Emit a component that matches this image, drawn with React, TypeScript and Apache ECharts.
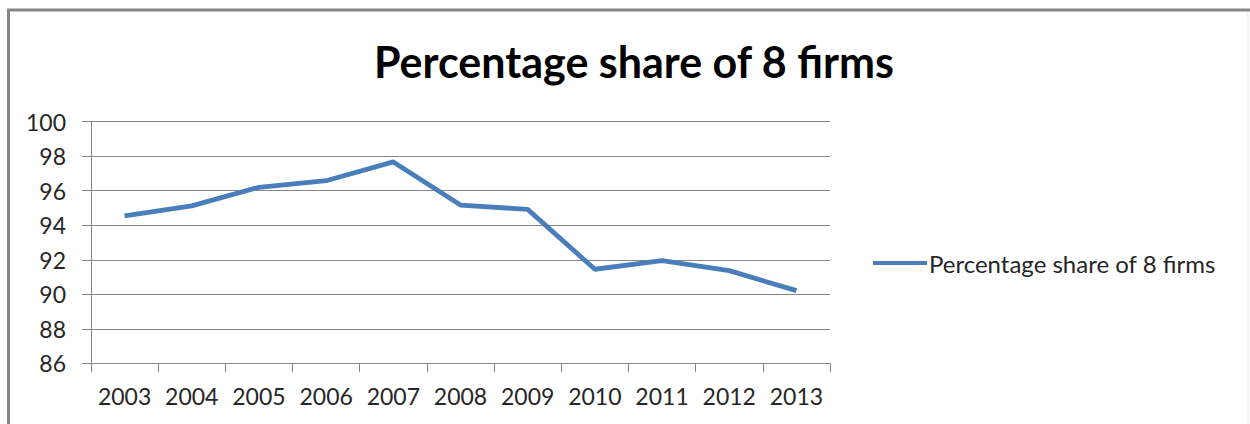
import React, { useEffect, useRef } from "react";
import * as echarts from "echarts";

const title = "Percentage share of 8 firms";
const seriesName = "Percentage share of 8 firms";
const years = ["2003", "2004", "2005", "2006", "2007", "2008", "2009", "2010", "2011", "2012", "2013"];
const shares = [94.54, 95.12, 96.2, 96.58, 97.67, 95.17, 94.92, 91.45, 91.95, 91.37, 90.21];
const yMin = 86;
const yMax = 100;
const yStep = 2;

export default function App() {
  const ref = useRef<HTMLDivElement>(null);
  useEffect(() => {
    document.body.style.margin = "0";
    const chart = echarts.init(ref.current!, undefined, { renderer: "svg" });
    const font = "Lato, 'Open Sans', sans-serif";
    chart.setOption({
      animation: false,
      backgroundColor: "#ffffff",
      title: {
        text: title,
        left: 629,
        textAlign: "center",
        top: 35,
        textStyle: { fontFamily: font, fontSize: 43, fontWeight: "bold", color: "#000" },
      },
      legend: {
        left: 868,
        top: 246,
        itemWidth: 54,
        itemHeight: 28,
        itemGap: 4,
        icon: "path://M0,12 L54,12 L54,16 L0,16 Z",
        data: [seriesName],
        textStyle: { fontFamily: font, fontSize: 24, color: "#262626", padding: [0, 0, 0, -3] },
      },
      grid: { left: 91, right: 420, top: 121.7, bottom: 60.7, containLabel: false },
      xAxis: {
        type: "category",
        data: years,
        boundaryGap: true,
        axisLine: { show: true, lineStyle: { color: "#868686", width: 1 } },
        axisTick: { show: true, length: 9, interval: 0, lineStyle: { color: "#868686" } },
        axisLabel: { fontFamily: font, fontSize: 23, color: "#262626", margin: 21, interval: 0 },
      },
      yAxis: {
        type: "value",
        min: yMin,
        max: yMax,
        interval: yStep,
        axisLine: { show: true, lineStyle: { color: "#868686", width: 1 } },
        axisTick: { show: true, length: 9, lineStyle: { color: "#868686" } },
        splitLine: { show: true, lineStyle: { color: "#868686", width: 1 } },
        axisLabel: { fontFamily: font, fontSize: 23, color: "#262626", margin: 25 },
      },
      series: [
        {
          name: seriesName,
          type: "line",
          data: shares,
          symbol: "none",
          lineStyle: { color: "#4a7ebb", width: 4.8 },
          itemStyle: { color: "#4a7ebb" },
        },
      ],
      graphic: [
        { type: "line", shape: { x1: 7, y1: 10, x2: 1250, y2: 10 }, style: { stroke: "#858585", lineWidth: 3 } },
        { type: "line", shape: { x1: 8.5, y1: 9, x2: 8.5, y2: 424 }, style: { stroke: "#858585", lineWidth: 3 } },
        { type: "line", shape: { x1: 1248, y1: 12, x2: 1248, y2: 424 }, style: { stroke: "#e6e6e6", lineWidth: 1 } },
      ],
    });
    return () => chart.dispose();
  }, []);
  return <div ref={ref} style={{ width: 1250, height: 424 }} />;
}
